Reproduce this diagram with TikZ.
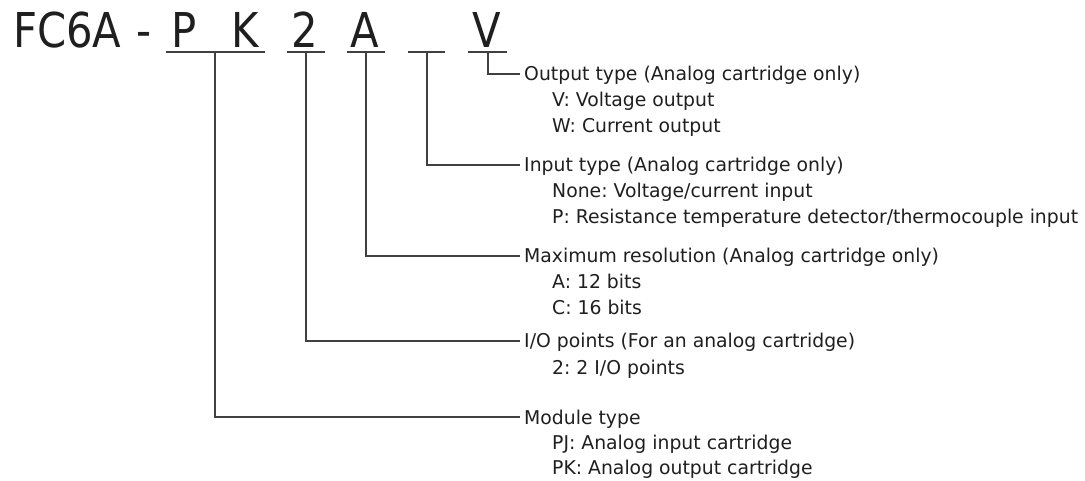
\documentclass[tikz,border=0pt]{standalone}
\usepackage{fontspec}
\setmainfont{DejaVu Sans}[FakeStretch=0.99]
\newfontfamily\codefont{DejaVu Sans}[FakeStretch=0.87]
\frenchspacing
\usetikzlibrary{positioning}

\tikzset{
  code/.style={font=\codefont\fontsize{48}{48}\selectfont, inner sep=0pt, anchor=base, text=black!88},
  head/.style={font=\fontsize{19}{26}\selectfont, text height=14pt, text depth=0pt,
               inner xsep=4pt, inner ysep=0pt, anchor=west, text=black!88},
  uline/.style={line width=1.6pt, black!75},
  lead/.style={line width=1.2pt, black!75}
}

\begin{document}
\begin{tikzpicture}[x=1pt,y=-1pt]
  \useasboundingbox (0,0) rectangle (1085,481);

  % Typenbezeichnung
  \node[code, anchor=base west] (fc)  at (13,48)  {FC6A};
  \node[code] (dash) at (144,48) {-};
  \node[code] (P)    at (184,48) {P};
  \node[code] (K)    at (245,48) {K};
  \node[code] (two)  at (305,48) {2};
  \node[code] (A)    at (365,48) {A};
  \node[code] (V)    at (487,48) {V};

  % Unterstriche mit Abzweigpunkt
  \foreach \a/\b/\m [count=\i] in {166/265/215, 287/325/306, 347/385/366, 408/445/427, 468/507/488} {
    \draw[uline] (\a,52) -- (\b,52);
    \coordinate (t\i) at (\m,52);
  }

  % Beschreibungen
  \node[head] (out) at (520,74)  {Output type (Analog cartridge only)};
  \node[head] at (548,100) {V: Voltage output};
  \node[head] at (548,126) {W: Current output};

  \node[head] (inp) at (520,165) {Input type (Analog cartridge only)};
  \node[head] at (548,191) {None: Voltage/current input};
  \node[head] at (548,217) {P: Resistance temperature detector/thermocouple input};

  \node[head] (res) at (520,256) {Maximum resolution (Analog cartridge only)};
  \node[head] at (548,282) {A: 12 bits};
  \node[head] at (548,308) {C: 16 bits};

  \node[head] (pts) at (520,341) {I/O points (For an analog cartridge)};
  \node[head] at (548,367) {2: 2 I/O points};

  \node[head] (mod) at (520,417) {Module type};
  \node[head] at (548,442) {PJ: Analog input cartridge};
  \node[head] at (548,467) {PK: Analog output cartridge};

  % Verbindungslinien
  \draw[lead] (t5) |- (out.west);
  \draw[lead] (t4) |- (inp.west);
  \draw[lead] (t3) |- (res.west);
  \draw[lead] (t2) |- (pts.west);
  \draw[lead] (t1) |- (mod.west);
\end{tikzpicture}
\end{document}
